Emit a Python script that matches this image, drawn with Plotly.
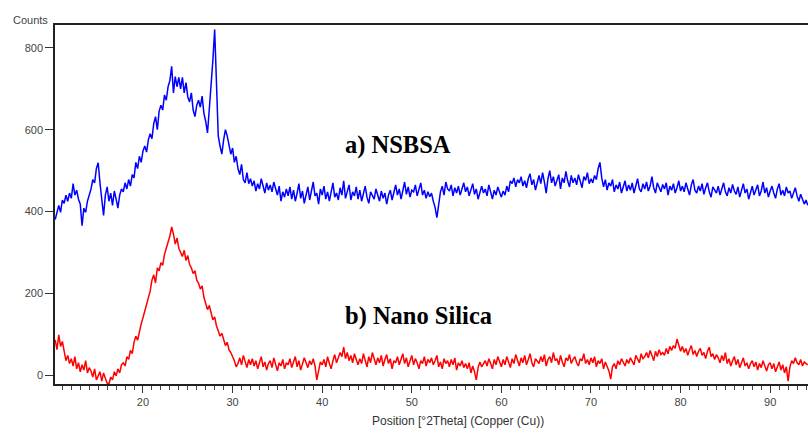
import numpy as np
import plotly.graph_objects as go

# 2Theta scan grid (degrees), 0.2 deg step
two_theta_start = 10.2
two_theta_step = 0.2

# a) NSBSA counts (10 values = 2 degrees per row)
nsbsa_counts = [
    380, 402, 415, 398, 428, 420, 440, 425, 445, 432,
    468, 440, 452, 430, 418, 365, 408, 398, 425, 440,
    455, 478, 470, 505, 519, 470, 430, 390, 440, 460,
    425, 445, 415, 450, 430, 408, 440, 455, 448, 470,
    455, 478, 462, 490, 482, 520, 505, 535, 520, 548,
    560, 545, 575, 590, 578, 615, 632, 600, 645, 660,
    648, 685, 672, 705, 720, 755, 690, 730, 705, 728,
    700, 728, 690, 715, 680, 668, 690, 648, 632, 660,
    672, 655, 682, 640, 620, 592, 650, 700, 770, 845,
    690, 585, 560, 540, 575, 600, 585, 560, 540, 555,
    520, 535, 505, 490, 515, 478, 470, 495, 468, 480,
    462, 475, 450, 468, 455, 480, 458, 445, 470, 452,
    465, 448, 472, 455, 440, 462, 425, 448, 435, 455,
    438, 460, 430, 452, 425, 445, 468, 432, 450, 420,
    445, 460, 428, 450, 472, 438, 445, 418, 455, 440,
    462, 430, 448, 425, 452, 470, 435, 445, 428, 458,
    440, 475, 432, 450, 465, 428, 448, 438, 460, 430,
    452, 425, 445, 462, 435, 420, 448, 440, 430, 455,
    438, 425, 450, 432, 445, 418, 440, 452, 428, 445,
    465, 440, 455, 430, 448, 472, 442, 460, 435, 452,
    448, 465, 438, 455, 470, 440, 452, 432, 448, 436,
    445, 425, 410, 385, 420, 448, 462, 440, 472, 455,
    450, 465, 438, 458, 445, 462, 440, 455, 470, 448,
    460, 438, 452, 468, 442, 455, 430, 448, 462, 445,
    455, 438, 465, 448, 430, 452, 440, 460, 445, 435,
    450, 440, 462, 448, 475, 468, 482, 460, 478, 470,
    485, 462, 475, 458, 480, 492, 465, 478, 452, 470,
    488, 468, 495, 472, 445, 480, 500, 470, 485, 462,
    478, 490, 455, 482, 470, 498, 475, 460, 488, 470,
    482, 465, 490, 472, 458, 485, 476, 495, 468, 480,
    470, 488, 478, 505, 520, 482, 460, 478, 452, 470,
    462, 478, 448, 465, 455, 472, 445, 460, 475, 450,
    465, 452, 470, 445, 462, 480, 455, 448, 468, 455,
    472, 450, 462, 485, 458, 445, 470, 460, 448, 466,
    455, 470, 440, 462, 452, 468, 445, 458, 475, 450,
    462, 448, 470, 455, 440, 465, 478, 452, 445, 462,
    450, 468, 442, 458, 470, 448, 435, 460, 452, 445,
    462, 440, 455, 470, 448, 438, 458, 445, 466, 450,
    442, 460, 435, 452, 468, 445, 455, 430, 448, 462,
    440, 455, 465, 438, 450, 472, 445, 458, 435, 450,
    462, 445, 432, 455, 468, 440, 452, 438, 460, 445,
    450, 432, 445, 458, 438, 425, 442, 430, 418, 428,
    415,
]

# b) Nano Silica counts
nano_silica_counts = [
    86, 62, 98, 70, 82, 55, 35, 48, 28, 40,
    22, 45, 15, 30, 8, 25, 12, 35, 5, 18,
    10, -5, 15, -12, 0, 8, -15, 5, -8, -20,
    -22, -5, -12, 8, -2, 15, 5, 25, 30, 22,
    45, 38, 60, 52, 80, 95, 85, 110, 125, 140,
    158, 175, 190, 205, 232, 245, 225, 262, 255, 275,
    268, 295, 310, 325, 340, 362, 345, 320, 335, 310,
    300, 290, 305, 280, 292, 270, 262, 248, 255, 232,
    225, 210, 218, 190, 175, 160, 170, 148, 135, 142,
    120, 108, 95, 102, 85, 72, 80, 62, 55, 45,
    35, 20, 28, 42, 25, 48, 30, 18, 38, 25,
    40, 22, 35, 15, 30, 45, 20, 32, 12, 28,
    35, 18, 42, 25, 10, 30, 22, 38, 15, 30,
    25, 40, 18, 32, 45, 20, 35, 12, 28, 42,
    30, 18, 35, 25, 40, 22, -12, 15, 32, 25,
    38, 20, 45, 28, 15, 35, 50, 30, 42, 55,
    45, 68, 40, 55, 35, 48, 30, 52, 38, 25,
    40, 28, 52, 35, 20, 45, 30, 55, 38, 25,
    42, 30, 48, 22, 38, 50, 28, 40, 15, 35,
    30, 45, 25, 38, 52, 28, 42, 20, 35, 48,
    25, 40, 30, 15, 35, 28, 45, 22, 38, 30,
    42, 25, 35, 48, 20, 32, 15, 40, 28, 35,
    20, 38, 25, 42, 12, 30, 22, 35, 18, 28,
    15, 30, 5, 22, 8, -12, 18, 32, 20, 28,
    35, 22, 40, 28, 15, 38, 25, 45, 30, 20,
    38, 25, 45, 32, 18, 40, 28, 50, 35, 22,
    42, 30, 48, 25, 38, 52, 30, 20, 40, 35,
    28, 45, 32, 50, 22, 38, 45, 30, 55, 35,
    40, 25, 48, 32, 20, 42, 35, 50, 28, 38,
    45, 30, 22, 40, 35, 52, 28, 38, 25, 42,
    30, 45, 20, 35, 28, 40, 15, 32, 22, 10,
    -10, 20, 28, 15, 35, 25, 40, 30, 22, 38,
    28, 42, 35, 25, 48, 38, 30, 52, 40, 45,
    55, 42, 60, 48, 35, 58, 45, 62, 50, 55,
    48, 65, 52, 70, 60, 72, 65, 88, 75, 58,
    70, 55, 65, 48, 62, 72, 50, 60, 45, 58,
    65, 48, 55, 40, 58, 68, 45, 52, 38, 50,
    42, 30, 48, 35, 55, 28, 40, 22, 35, 45,
    25, 38, 18, 32, 42, 22, 30, 15, 28, 35,
    20, 32, 12, 28, 18, 35, 22, 10, 25, 30,
    15, 28, 8, 22, 32, 12, 25, 5, 20, -15,
    20, 35, 28, 42, 30, 25, 38, 22, 32, 28,
    25,
]

x_tick_values = [20, 30, 40, 50, 60, 70, 80, 90]
y_tick_values = [0, 200, 400, 600, 800]
series_labels = ["a) NSBSA", "b) Nano Silica"]
x_title = "Position [°2Theta] (Copper (Cu))"
y_title = "Counts"

two_theta = np.round(two_theta_start + two_theta_step * np.arange(len(nsbsa_counts)), 2)

fig = go.Figure()
fig.add_trace(go.Scatter(x=two_theta, y=nsbsa_counts, mode="lines",
                         line=dict(color="#0000ff", width=1.5), showlegend=False))
fig.add_trace(go.Scatter(x=two_theta, y=nano_silica_counts, mode="lines",
                         line=dict(color="#ff0000", width=1.5), showlegend=False))

tick_font = dict(family="Liberation Sans, Arial, sans-serif", size=11, color="#444444")
label_font = dict(family="Liberation Serif, Times New Roman, serif", size=24.5, color="#000000")

fig.update_layout(
    width=808, height=433,
    margin=dict(l=55, r=0, t=25, b=49),
    paper_bgcolor="white", plot_bgcolor="white",
    xaxis=dict(range=[10.18, 94.22], tickmode="array", tickvals=x_tick_values,
               ticks="outside", ticklen=7,
               tickcolor="#333333", tickwidth=1, showgrid=False, zeroline=False,
               showline=True, linecolor="#222222", linewidth=1.5, mirror=True,
               tickfont=tick_font,
               minor=dict(tickmode="linear", dtick=1, tick0=0, ticks="outside", ticklen=4,
                          tickcolor="#444444", tickwidth=1, showgrid=False)),
    yaxis=dict(range=[-22, 856], tickvals=y_tick_values, ticks="outside", ticklen=8,
               tickcolor="#333333", tickwidth=1, showgrid=False, zeroline=False,
               showline=True, linecolor="#222222", linewidth=1.5, mirror=False,
               tickfont=tick_font),
    annotations=[
        dict(x=42.3, y=563, xref="x", yref="y", text="<b>" + series_labels[0] + "</b>",
             showarrow=False, xanchor="left", yanchor="middle", font=label_font),
        dict(x=42.3, y=144, xref="x", yref="y", text="<b>" + series_labels[1] + "</b>",
             showarrow=False, xanchor="left", yanchor="middle", font=label_font),
        dict(x=-0.032, y=1.014, xref="paper", yref="paper", text=y_title,
             showarrow=False, xanchor="center", yanchor="middle",
             font=dict(family="Liberation Sans, Arial, sans-serif", size=11, color="#444444")),
        dict(x=0.5352, y=-0.103, xref="paper", yref="paper", text=x_title,
             showarrow=False, xanchor="center", yanchor="middle",
             font=dict(family="Liberation Sans, Arial, sans-serif", size=12, color="#333333")),
    ],
)

fig.write_html("out.html", config={"displayModeBar": False},
               post_script="document.body.style.margin='0px';document.body.style.overflow='hidden';")
